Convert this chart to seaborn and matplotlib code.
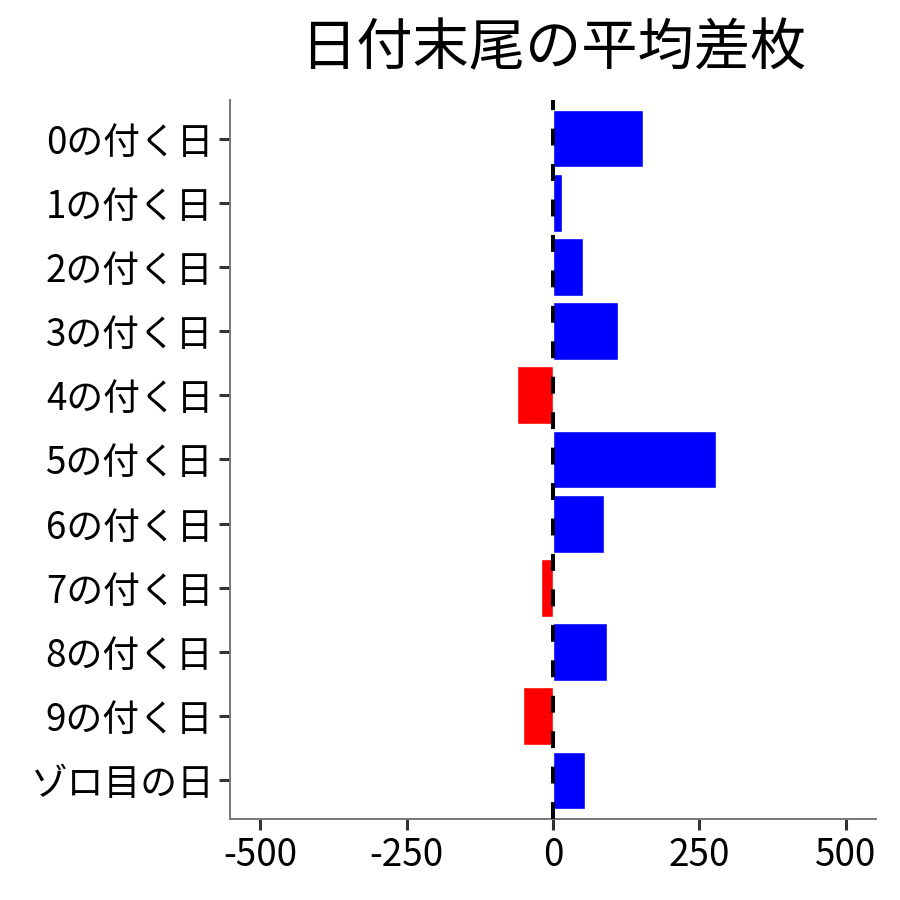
import matplotlib
matplotlib.use('Agg')
import matplotlib.pyplot as plt
import seaborn as sns
import pandas as pd

# データ
categories = ['0の付く日', '1の付く日', '2の付く日', '3の付く日', '4の付く日',
              '5の付く日', '6の付く日', '7の付く日', '8の付く日', '9の付く日', 'ゾロ目の日']
diff_values = [154, 15, 51, 111, -62, 279, 87, -20, 92, -51, 55]
x_ticks = [-500, -250, 0, 250, 500]

df = pd.DataFrame({'category': categories, 'diff': diff_values})
colors = ['blue' if v >= 0 else 'red' for v in df['diff']]

sns.set_style('white')
plt.rcParams['font.family'] = ['Noto Sans CJK JP', 'DejaVu Sans']
plt.rcParams['text.color'] = 'black'
plt.rcParams['xtick.labelcolor'] = 'black'
plt.rcParams['ytick.labelcolor'] = 'black'

fig = plt.figure(figsize=(9, 9), dpi=100)
ax = fig.add_axes([230 / 900, 1 - 819 / 900, (876 - 230) / 900, (819 - 100) / 900])

sns.barplot(
    data=df, x='diff', y='category', hue='category', palette=colors,
    orient='h', width=0.9, legend=False, saturation=1, ax=ax
    )

# 0 の位置に破線
ax.axvline(0, color='black', linewidth=2.9, linestyle=(0, (4.2, 4.6)), zorder=5)

ax.set_xlim(-552, 552)
ax.set_ylim(len(categories) - 0.4, -0.6)
ax.set_xticks(x_ticks)
ax.set_xticklabels([str(x) for x in x_ticks])
ax.set_xlabel('')
ax.set_ylabel('')

ax.set_title('日付末尾の平均差枚', fontsize=40.5, pad=25, color='black')

ax.tick_params(axis='both', labelsize=26.5, length=8, width=2.2,
               color='#333333', labelcolor='black', pad=4, left=True, bottom=True)
for side in ['top', 'right']:
    ax.spines[side].set_visible(False)
for side in ['left', 'bottom']:
    ax.spines[side].set_color('#777777')
    ax.spines[side].set_linewidth(1.4)

plt.savefig('out.png', dpi=100)
